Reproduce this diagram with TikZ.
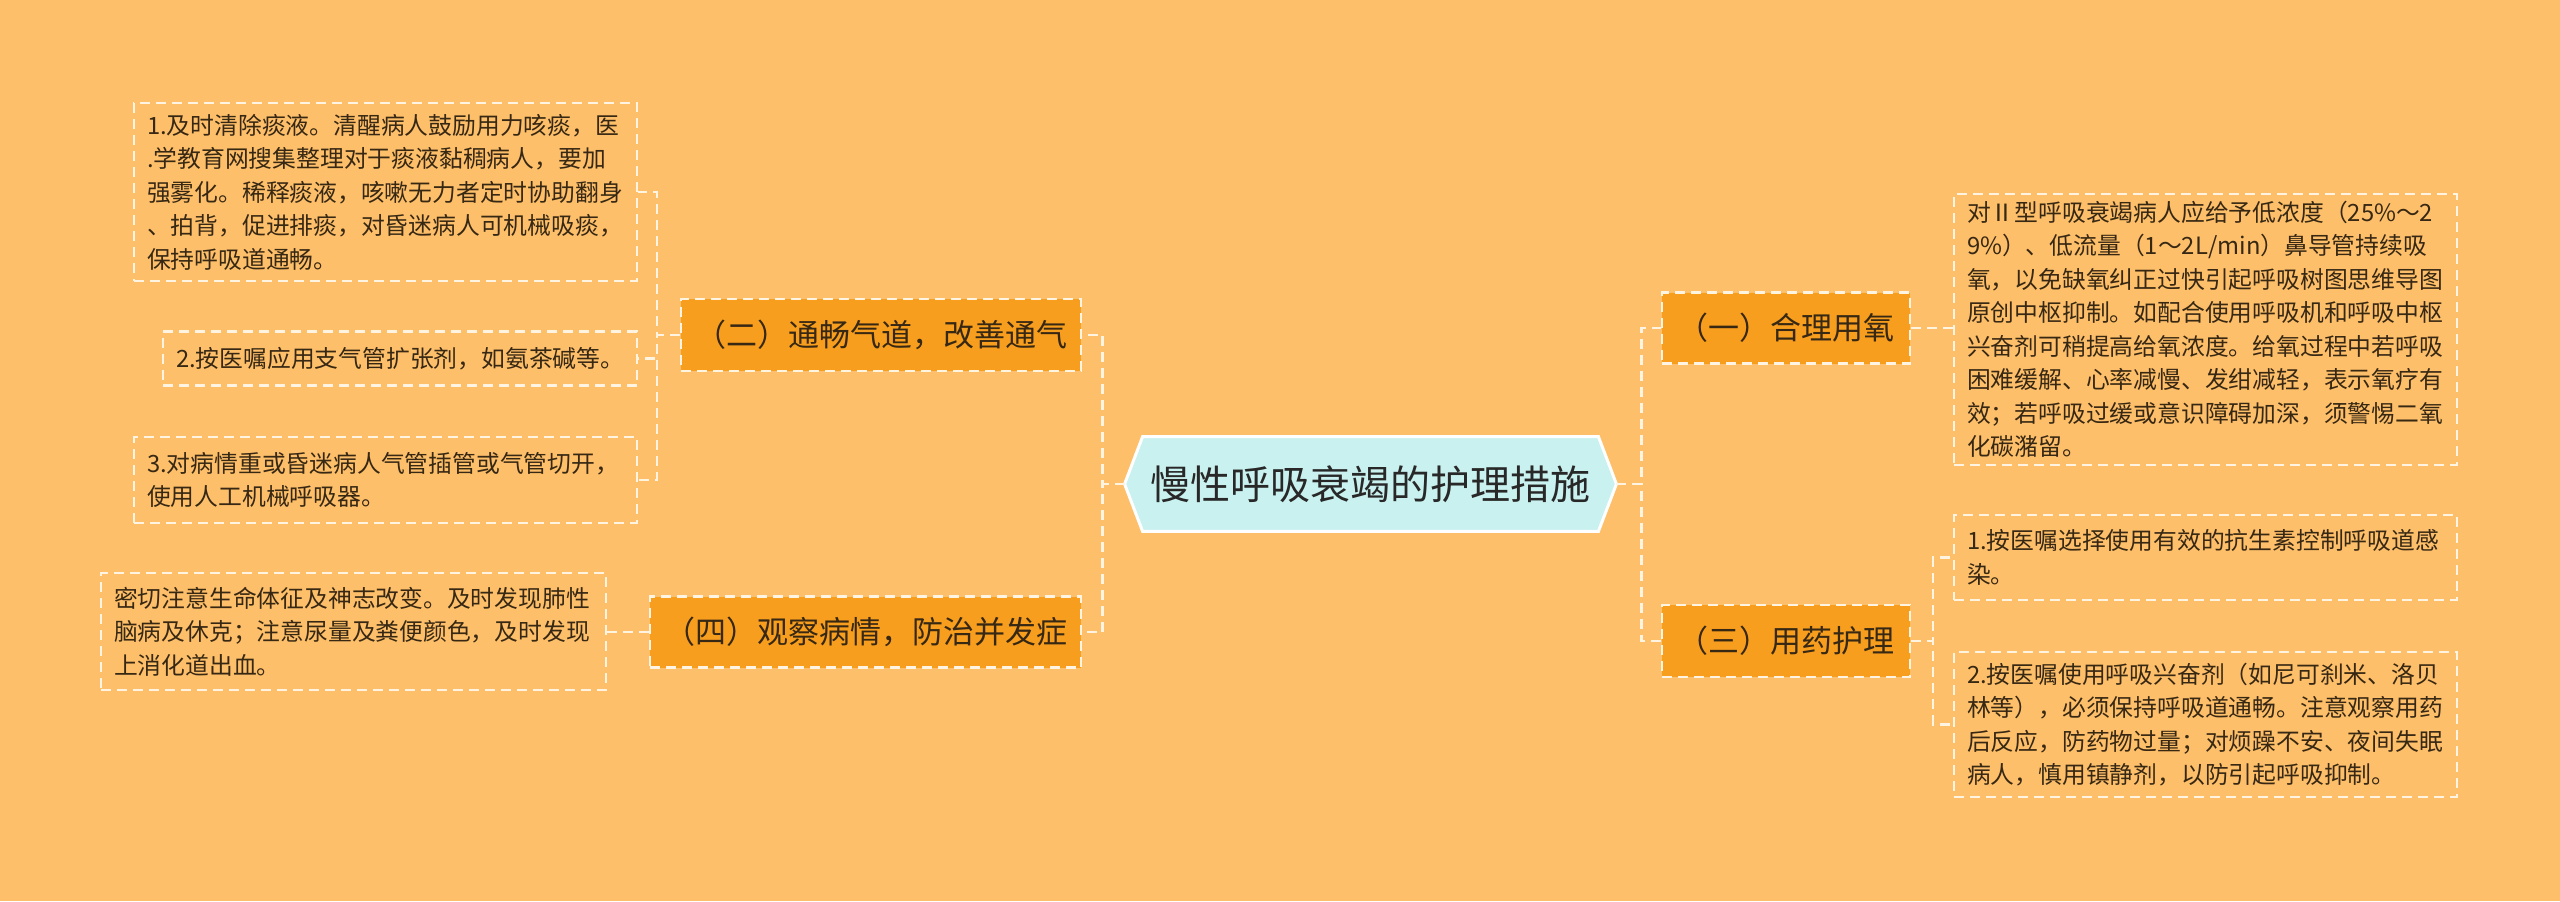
\documentclass[tikz,border=0pt]{standalone}
\usepackage{fontspec}
\setmainfont{Noto Sans CJK SC}
\usetikzlibrary{backgrounds}
\definecolor{bg}{RGB}{254,191,106}
\definecolor{brfill}{RGB}{248,158,30}
\definecolor{rootfill}{RGB}{201,241,239}
\definecolor{lnc}{RGB}{255,244,226}
\definecolor{txt}{RGB}{55,40,20}
\definecolor{roottxt}{RGB}{40,40,40}
\begin{document}
\begin{tikzpicture}[x=0.5pt,y=-0.5pt,
  dashline/.style={draw=lnc, line width=1.2pt, dash pattern=on 5pt off 3pt},
  leaf/.style={dashline, rectangle, align=left, inner xsep=6.5pt, inner ysep=0pt, text=txt,
    font=\fontsize{11.9}{16.75}\selectfont},
  branch/.style={dashline, fill=brfill, rectangle, inner sep=0pt, align=center, text=txt,
    font=\fontsize{15.5}{18}\selectfont},
  rootnode/.style={rectangle, inner sep=0pt, minimum width=245.5pt, minimum height=47pt,
    text=roottxt, font=\fontsize{20}{24}\selectfont},
  conn/.style={dashline}]
\useasboundingbox (0,0) rectangle (2560,901);

% root
\node[rootnode] (root) at (1370.5,484) {慢性呼吸衰竭的护理措施};

% branches
\node[branch, minimum width=200pt, minimum height=36pt] (b2) at (881,335) {（二）通畅气道，改善通气};
\node[branch, minimum width=215.5pt, minimum height=35.5pt] (b4) at (865.5,632) {（四）观察病情，防治并发症};
\node[branch, minimum width=124pt, minimum height=35.5pt] (b1) at (1786,328) {（一）合理用氧};
\node[branch, minimum width=124pt, minimum height=36pt] (b3) at (1786,641) {（三）用药护理};

% leaves left
\node[leaf, text width=238.5pt, minimum height=89pt] (l1) at (385.5,192) {1.及时清除痰液。清醒病人鼓励用力咳痰，医\\.学教育网搜集整理对于痰液黏稠病人，要加\\强雾化。稀释痰液，咳嗽无力者定时协助翻身\\、拍背，促进排痰，对昏迷病人可机械吸痰，\\保持呼吸道通畅。};
\node[leaf, text width=224pt, minimum height=27pt] (l2) at (400,358.5) {2.按医嘱应用支气管扩张剂，如氨茶碱等。};
\node[leaf, text width=238.5pt, minimum height=43pt] (l3) at (385.5,480) {3.对病情重或昏迷病人气管插管或气管切开，\\使用人工机械呼吸器。};
\node[leaf, text width=239.5pt, minimum height=58.5pt] (l4) at (353.5,631.5) {密切注意生命体征及神志改变。及时发现肺性\\脑病及休克；注意尿量及粪便颜色，及时发现\\上消化道出血。};

% leaves right
\node[leaf, text width=238.5pt, minimum height=135.5pt] (r1) at (2205.5,329.5) {对Ⅱ型呼吸衰竭病人应给予低浓度（25\%～2\\9\%）、低流量（1～2L/min）鼻导管持续吸\\氧，以免缺氧纠正过快引起呼吸树图思维导图\\原创中枢抑制。如配合使用呼吸机和呼吸中枢\\兴奋剂可稍提高给氧浓度。给氧过程中若呼吸\\困难缓解、心率减慢、发绀减轻，表示氧疗有\\效；若呼吸过缓或意识障碍加深，须警惕二氧\\化碳潴留。};
\node[leaf, text width=238.5pt, minimum height=42.5pt] (r2) at (2205.5,557.5) {1.按医嘱选择使用有效的抗生素控制呼吸道感\\染。};
\node[leaf, text width=238.5pt, minimum height=72.5pt] (r3) at (2205.5,724.5) {2.按医嘱使用呼吸兴奋剂（如尼可刹米、洛贝\\林等），必须保持呼吸道通畅。注意观察用药\\后反应，防药物过量；对烦躁不安、夜间失眠\\病人，慎用镇静剂，以防引起呼吸抑制。};

\begin{pgfonlayer}{background}
  \fill[bg] (0,0) rectangle (2560,901);
  \filldraw[fill=rootfill, draw=white, line width=1.5pt, line join=miter]
    (root.west) -- ([xshift=9pt]root.north west) -- ([xshift=-9pt]root.north east)
    -- (root.east) -- ([xshift=-9pt]root.south east) -- ([xshift=9pt]root.south west) -- cycle;
\end{pgfonlayer}

% connectors
\draw[conn] (root.west) -- ++(-22,0) |- (b2.east);
\draw[conn] (root.west) -- ++(-22,0) |- (b4.east);
\draw[conn] (root.east) -- ++(25,0) |- (b1.west);
\draw[conn] (root.east) -- ++(25,0) |- (b3.west);
\draw[conn] (b2.west) -- ++(-23,0) |- (l1.east);
\draw[conn] (b2.west) -- ++(-23,0) |- (l2.east);
\draw[conn] (b2.west) -- ++(-23,0) |- (l3.east);
\draw[conn] (b4.west) -- (b4.west -| l4.east);
\draw[conn] (b1.east) -- (b1.east -| r1.west);
\draw[conn] (b3.east) -- ++(22,0) |- (r2.west);
\draw[conn] (b3.east) -- ++(22,0) |- (r3.west);
\end{tikzpicture}
\end{document}
